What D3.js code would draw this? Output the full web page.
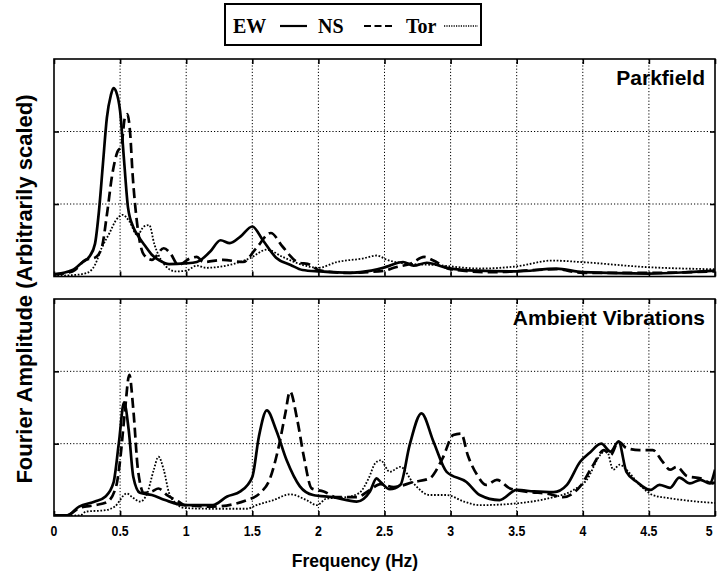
<!DOCTYPE html>
<html>
<head>
<meta charset="utf-8">
<script src="https://cdn.jsdelivr.net/npm/d3@7"></script>
<style>
  html, body { margin: 0; padding: 0; background: #fff; }
  svg { display: block; }
</style>
</head>
<body>
<svg id="chart" width="717" height="582"></svg>
<script>
// Frequency tick values (Hz) and their labels
const freqTicks = [0, 0.5, 1, 1.5, 2, 2.5, 3, 3.5, 4, 4.5, 5];
const freqLabels = ["0", "0.5", "1", "1.5", "2", "2.5", "3", "3.5", "4", "4.5", "5"];
const ampTicks = [1, 2];

const seriesNames = ["EW", "NS", "Tor"];
const panelTitles = ["Parkfield", "Ambient Vibrations"];

// Parkfield earthquake record spectra: [frequency Hz, amplitude]
const parkEW = [[0,0.03],[0.14,0.09],[0.21,0.19],[0.27,0.28],[0.31,0.45],[0.34,0.9],[0.37,1.55],[0.40,2.19],[0.43,2.5],[0.45,2.6],[0.47,2.55],[0.50,2.28],[0.53,1.6],[0.56,0.95],[0.60,0.68],[0.64,0.55],[0.69,0.42],[0.74,0.30],[0.80,0.22],[0.87,0.17],[0.99,0.18],[1.08,0.2],[1.18,0.34],[1.26,0.50],[1.33,0.46],[1.41,0.55],[1.50,0.69],[1.58,0.50],[1.68,0.26],[1.79,0.16],[1.88,0.09],[2.01,0.07],[2.24,0.05],[2.4,0.08],[2.49,0.12],[2.54,0.15],[2.64,0.20],[2.72,0.15],[2.82,0.19],[2.97,0.12],[3.2,0.08],[3.5,0.07],[3.8,0.11],[4.0,0.06],[4.5,0.04],[4.8,0.06],[5,0.08]];
const parkNS = [[0,0.03],[0.14,0.07],[0.24,0.23],[0.31,0.26],[0.36,0.39],[0.40,0.85],[0.44,1.40],[0.48,1.72],[0.51,1.8],[0.535,2.18],[0.555,2.24],[0.575,2.0],[0.595,1.40],[0.63,0.71],[0.68,0.30],[0.74,0.23],[0.83,0.39],[0.88,0.32],[0.94,0.16],[1.03,0.25],[1.08,0.27],[1.13,0.20],[1.28,0.23],[1.43,0.20],[1.53,0.39],[1.64,0.60],[1.73,0.41],[1.84,0.20],[1.94,0.16],[2.0,0.09],[2.2,0.05],[2.5,0.08],[2.57,0.12],[2.7,0.18],[2.8,0.27],[2.87,0.22],[3.0,0.10],[3.3,0.06],[3.8,0.10],[4.0,0.05],[4.5,0.05],[5,0.07]];
const parkTor = [[0,0.01],[0.15,0.02],[0.25,0.05],[0.31,0.16],[0.36,0.39],[0.42,0.60],[0.47,0.78],[0.52,0.85],[0.57,0.76],[0.63,0.57],[0.68,0.69],[0.72,0.71],[0.76,0.44],[0.82,0.20],[0.92,0.07],[1.0,0.08],[1.08,0.15],[1.15,0.12],[1.33,0.16],[1.48,0.25],[1.61,0.37],[1.73,0.27],[1.88,0.16],[2.0,0.12],[2.14,0.20],[2.34,0.25],[2.44,0.29],[2.52,0.23],[2.72,0.17],[2.87,0.16],[3.22,0.11],[3.5,0.14],[3.77,0.22],[3.98,0.2],[4.48,0.13],[5,0.10]];

// Ambient vibration spectra: [frequency Hz, amplitude]
const ambEW = [[0,0.01],[0.1,0.01],[0.19,0.13],[0.31,0.20],[0.39,0.27],[0.45,0.46],[0.49,1.0],[0.53,1.57],[0.565,1.19],[0.60,0.54],[0.65,0.32],[0.74,0.29],[0.84,0.22],[0.99,0.15],[1.2,0.15],[1.31,0.27],[1.41,0.34],[1.5,0.54],[1.55,1.1],[1.61,1.46],[1.68,1.19],[1.76,0.77],[1.86,0.41],[1.96,0.29],[2.11,0.26],[2.29,0.20],[2.39,0.34],[2.44,0.52],[2.47,0.47],[2.54,0.37],[2.62,0.43],[2.69,0.98],[2.78,1.42],[2.87,1.03],[2.97,0.61],[3.12,0.47],[3.22,0.29],[3.37,0.22],[3.5,0.36],[3.63,0.34],[3.78,0.33],[3.88,0.43],[3.98,0.75],[4.05,0.87],[4.14,1.0],[4.21,0.89],[4.27,1.03],[4.33,0.61],[4.41,0.47],[4.51,0.36],[4.58,0.43],[4.66,0.39],[4.73,0.53],[4.81,0.45],[4.89,0.5],[4.96,0.45],[5,0.64]];
const ambNS = [[0,0.01],[0.1,0.01],[0.19,0.11],[0.31,0.15],[0.40,0.19],[0.47,0.41],[0.50,0.77],[0.535,1.42],[0.57,1.95],[0.60,1.47],[0.635,0.64],[0.68,0.32],[0.74,0.34],[0.79,0.38],[0.855,0.29],[0.94,0.20],[0.99,0.15],[1.2,0.13],[1.46,0.22],[1.56,0.32],[1.63,0.5],[1.70,0.96],[1.75,1.42],[1.785,1.72],[1.84,1.33],[1.89,0.82],[1.95,0.38],[2.04,0.34],[2.14,0.26],[2.29,0.26],[2.39,0.36],[2.47,0.44],[2.57,0.40],[2.72,0.47],[2.84,0.52],[2.94,0.80],[3.02,1.12],[3.08,1.14],[3.13,0.84],[3.20,0.57],[3.27,0.43],[3.35,0.50],[3.45,0.38],[3.60,0.33],[3.73,0.31],[3.85,0.26],[3.98,0.41],[4.08,0.71],[4.16,0.91],[4.21,0.84],[4.27,1.03],[4.33,0.94],[4.43,0.91],[4.53,0.91],[4.6,0.76],[4.66,0.64],[4.71,0.68],[4.79,0.55],[4.89,0.52],[4.98,0.45],[5,0.47]];
const ambTor = [[0,0.0],[0.2,0.01],[0.24,0.06],[0.39,0.08],[0.46,0.13],[0.55,0.31],[0.60,0.25],[0.65,0.20],[0.70,0.29],[0.755,0.64],[0.79,0.82],[0.83,0.64],[0.87,0.32],[0.92,0.18],[0.99,0.11],[1.2,0.10],[1.46,0.10],[1.53,0.15],[1.66,0.22],[1.785,0.30],[1.91,0.22],[1.99,0.15],[2.06,0.24],[2.21,0.26],[2.31,0.32],[2.38,0.52],[2.43,0.73],[2.47,0.77],[2.54,0.61],[2.62,0.68],[2.72,0.45],[2.84,0.29],[2.97,0.29],[3.10,0.20],[3.22,0.15],[3.47,0.17],[3.73,0.24],[3.93,0.36],[4.03,0.50],[4.13,0.84],[4.18,0.91],[4.23,0.64],[4.28,0.71],[4.33,0.64],[4.43,0.43],[4.53,0.29],[4.68,0.24],[4.86,0.20],[5,0.18]];

const panels = [
  { title: panelTitles[0], top: 59, bottom: 276.5, data: [parkEW, parkNS, parkTor] },
  { title: panelTitles[1], top: 299, bottom: 516, data: [ambEW, ambNS, ambTor] }
];

// Line style per component
const styles = [
  { width: 2.7, dash: null },
  { width: 2.7, dash: "10,5" },
  { width: 1.8, dash: "1.7,1.7" }
];

const svg = d3.select("#chart");
const left = 54, right = 715;
const sans = "'Liberation Sans', Arial, Helvetica, sans-serif";

const x = d3.scaleLinear().domain([0, 5]).range([left, right]);

panels.forEach((p, i) => {
  const y = d3.scaleLinear().domain([0, 3]).range([p.bottom, p.top]);
  const g = svg.append("g");
  const clipId = "clip" + i;
  svg.append("clipPath").attr("id", clipId)
    .append("rect").attr("x", left).attr("y", p.top)
    .attr("width", right - left).attr("height", p.bottom - p.top);

  // dotted grid
  const grid = g.append("g").attr("stroke", "#000").attr("stroke-width", 1)
    .attr("stroke-dasharray", "1.2,2").attr("fill", "none");
  grid.selectAll("line.vx").data(freqTicks.slice(1, -1)).join("line")
    .attr("x1", d => x(d)).attr("x2", d => x(d))
    .attr("y1", p.top).attr("y2", p.bottom);
  grid.selectAll("line.hy").data(ampTicks).join("line")
    .attr("x1", left).attr("x2", right)
    .attr("y1", d => y(d)).attr("y2", d => y(d));

  // inward tick marks on all four sides
  const tk = 5;
  g.append("g").attr("transform", `translate(0,${p.bottom})`)
    .call(d3.axisBottom(x).tickValues(freqTicks).tickSize(-tk).tickFormat(""))
    .call(a => a.select(".domain").remove());
  g.append("g").attr("transform", `translate(0,${p.top})`)
    .call(d3.axisTop(x).tickValues(freqTicks).tickSize(-tk).tickFormat(""))
    .call(a => a.select(".domain").remove());
  g.append("g").attr("transform", `translate(${left},0)`)
    .call(d3.axisLeft(y).tickValues(ampTicks).tickSize(-tk).tickFormat(""))
    .call(a => a.select(".domain").remove());
  g.append("g").attr("transform", `translate(${right},0)`)
    .call(d3.axisRight(y).tickValues(ampTicks).tickSize(-tk).tickFormat(""))
    .call(a => a.select(".domain").remove());
  g.selectAll(".tick line").attr("stroke", "#000").attr("stroke-width", 1.6);

  // spectra
  const line = d3.line().x(d => x(d[0])).y(d => y(d[1])).curve(d3.curveMonotoneX);
  const lines = g.append("g").attr("clip-path", `url(#${clipId})`);
  p.data.forEach((s, k) => {
    lines.append("path").datum(s)
      .attr("d", line)
      .attr("fill", "none")
      .attr("stroke", "#000")
      .attr("stroke-width", styles[k].width)
      .attr("stroke-linejoin", "round")
      .attr("stroke-dasharray", styles[k].dash);
  });

  // frame
  g.append("rect").attr("x", left).attr("y", p.top)
    .attr("width", right - left).attr("height", p.bottom - p.top)
    .attr("fill", "none").attr("stroke", "#000").attr("stroke-width", 1.6);

  // panel title
  g.append("text").attr("x", 705).attr("y", p.top + 25.5)
    .attr("text-anchor", "end")
    .attr("font-family", sans)
    .attr("font-weight", "bold").attr("font-size", 21)
    .text(p.title);

  // frequency labels under the lower panel
  if (i === 1) {
    const ax = g.append("g").attr("transform", `translate(0,${p.bottom})`)
      .call(d3.axisBottom(x).tickValues(freqTicks).tickSize(0).tickPadding(10)
        .tickFormat((d, j) => freqLabels[j]))
      .call(a => a.select(".domain").remove());
    ax.selectAll("text")
      .attr("font-family", sans)
      .attr("font-weight", "bold").attr("font-size", 14).attr("fill", "#000")
      .attr("transform", "scale(0.88,1)")
      .attr("x", d => (d === 5 ? -2 : 0));
    // condensed glyphs: keep each label centred on its tick
    ax.selectAll(".tick").each(function (d) {
      d3.select(this).attr("transform", `translate(${d === 5 ? x(d) - 4 : x(d)},0)`);
    });
  }
});

// axis titles
svg.append("text").attr("x", 355).attr("y", 567)
  .attr("text-anchor", "middle")
  .attr("font-family", sans)
  .attr("font-weight", "bold").attr("font-size", 17.5)
  .text("Frequency (Hz)");

svg.append("text")
  .attr("transform", "translate(32,289) rotate(-90)")
  .attr("text-anchor", "middle")
  .attr("font-family", sans)
  .attr("font-weight", "bold").attr("font-size", 22)
  .text("Fourier Amplitude (Arbitrarily scaled)");

// legend
const lg = svg.append("g");
lg.append("rect").attr("x", 225).attr("y", 4).attr("width", 256).attr("height", 41)
  .attr("fill", "#fff").attr("stroke", "#000").attr("stroke-width", 2);
const legendItems = [
  { name: seriesNames[0], tx: 233, lx1: 280, lx2: 307 },
  { name: seriesNames[1], tx: 318, lx1: 364, lx2: 392 },
  { name: seriesNames[2], tx: 406, lx1: 444, lx2: 478 }
];
legendItems.forEach((it, k) => {
  lg.append("text").attr("x", it.tx).attr("y", 33)
    .attr("font-family", "'Liberation Serif', 'Times New Roman', serif")
    .attr("font-weight", "bold").attr("font-size", 20)
    .text(it.name);
  lg.append("line").attr("x1", it.lx1).attr("x2", it.lx2).attr("y1", 26).attr("y2", 26)
    .attr("stroke", "#000")
    .attr("stroke-width", k === 2 ? 1.3 : 2.2)
    .attr("stroke-dasharray", k === 1 ? "7,3.5" : (k === 2 ? "1.2,1.2" : null));
});
</script>
</body>
</html>
